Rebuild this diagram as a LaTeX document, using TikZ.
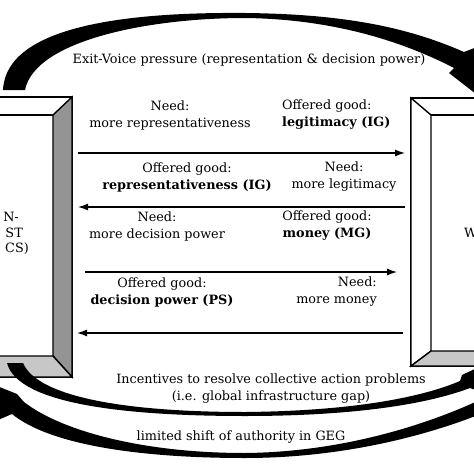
\documentclass[tikz,border=0pt]{standalone}
\usepackage{fontspec}
\setmainfont{DejaVu Serif}
\usepackage{tikz}
\usetikzlibrary{arrows.meta}

\begin{document}
\begin{tikzpicture}[x=1pt,y=-1pt,font=\fontsize{12.8}{17}\selectfont,
    flow/.style={line width=1.3pt,-{Latex[length=10pt,width=7pt]}},
    frame/.style={draw=black,line width=1.4pt,line join=miter},
    txt/.style={align=center,inner sep=0pt}]
  \useasboundingbox (0,0) rectangle (474,474);
  % left box
  \filldraw[frame,fill=white] (-10,97) rectangle (72,377);
  \filldraw[frame,fill=black!42] (72,97) -- (72,377) -- (53,356) -- (53,115) -- cycle;
  \filldraw[frame,fill=black!22] (-10,377) -- (72,377) -- (53,356) -- (-10,356) -- cycle;
  \draw[frame] (-10,115) -- (53,115);
  \node[anchor=east,inner sep=0pt] (ln1) at (19,217) {N-};
  \node[anchor=east,inner sep=0pt] (ln2) at (23,233) {ST};
  \node[anchor=east,inner sep=0pt] (ln3) at (29,249) {CS)};
  % right box
  \filldraw[frame,fill=white] (411,98) rectangle (490,366);
  \filldraw[frame,fill=white] (411,98) -- (431,115) -- (431,351) -- (411,366) -- cycle;
  \filldraw[frame,fill=black!22] (411,366) -- (490,366) -- (490,351) -- (431,351) -- cycle;
  \draw[frame] (431,115) -- (490,115);
  \node[anchor=west,inner sep=0pt] (rw) at (464,233) {W};
  % exchanges
  \coordinate (L1) at (78,153);  \coordinate (R1) at (405,153);
  \coordinate (L2) at (78,207);  \coordinate (R2) at (405,207);
  \coordinate (L3) at (85,272);  \coordinate (R3) at (397,272);
  \coordinate (L4) at (77,333);  \coordinate (R4) at (403,333);
  \draw[flow] (L1) -- (R1);
  \draw[flow] (R2) -- (L2);
  \draw[flow] (L3) -- (R3);
  \draw[flow] (R4) -- (L4);
  \node[txt] (n1) at (170,115) {Need:\\more representativeness};
  \node[txt,align=left,anchor=west] (o1) at (282,115) {Offered good:\\\textbf{legitimacy (IG)}};
  \node[txt] (o2) at (187,177) {Offered good:\\\textbf{representativeness (IG)}};
  \node[txt] (n2) at (344,177) {Need:\\more legitimacy};
  \node[txt] (n3) at (157,226) {Need:\\more decision power};
  \node[txt] (o3) at (327,226) {Offered good:\\\textbf{money (MG)}};
  \node[txt] (o4) at (162,292) {Offered good:\\\textbf{decision power (PS)}};
  \node[txt,align=right,anchor=east] (n4) at (377,292) {Need:\\more money};
  % big curved arrows
  \fill (3,90) .. controls (6,25) and (130,12) .. (245,13)
    .. controls (340,14) and (405,26) .. (464,52)
    -- (482,45) -- (494,108) -- (449,73) -- (454,68)
    .. controls (400,40) and (330,19) .. (245,18)
    .. controls (150,18) and (35,40) .. (25,90) -- cycle;
  \fill (7,363) .. controls (18,405) and (130,416) .. (245,416)
    .. controls (350,416) and (425,405) .. (470,388)
    -- (482,392) -- (498,358) -- (462,375) -- (460,381)
    .. controls (420,398) and (350,411) .. (245,412)
    .. controls (130,412) and (38,398) .. (23,363) -- cycle;
  \fill (12,414) .. controls (50,445) and (140,458) .. (245,458)
    .. controls (350,458) and (440,432) .. (495,408)
    -- (490,395) .. controls (440,420) and (350,452) .. (245,453)
    .. controls (140,453) and (60,430) .. (24,402)
    -- (17,394) -- (-18,380) -- (-2,420) -- cycle;
  \node[txt] (exit) at (249,60) {Exit-Voice pressure (representation \& decision power)};
  \node[txt] (inc) at (271,389) {Incentives to resolve collective action problems\\(i.e. global infrastructure gap)};
  \node[txt] (geg) at (241,437) {limited shift of authority in GEG};
\end{tikzpicture}
\end{document}
